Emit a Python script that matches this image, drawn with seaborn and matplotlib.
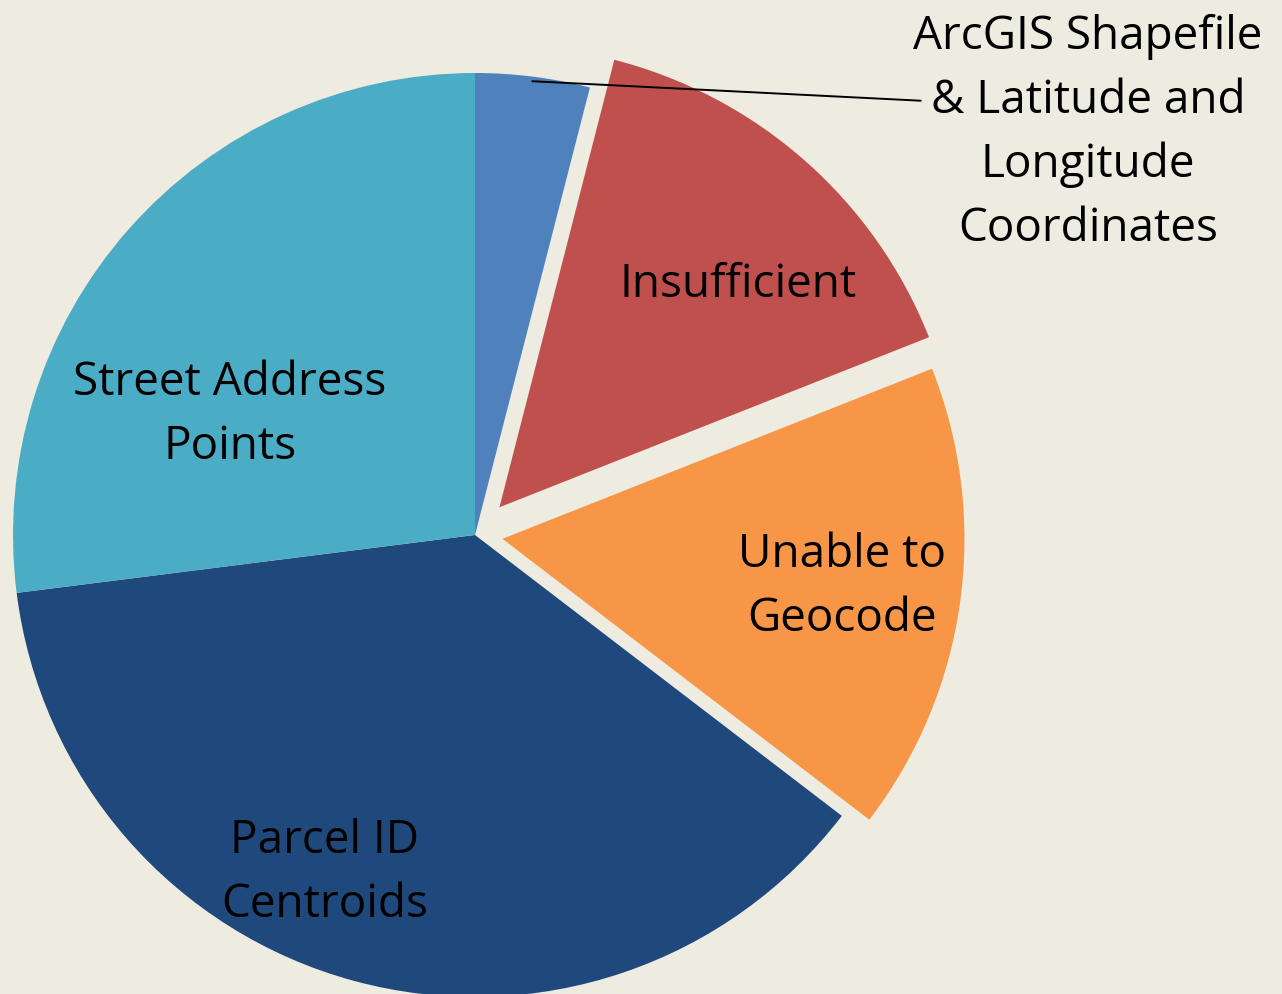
import numpy as np
import matplotlib.pyplot as plt
import seaborn as sns

# slice data (clockwise from 12 o'clock)
labels = ["ArcGIS Shapefile\n& Latitude and\nLongitude\nCoordinates", "Insufficient",
          "Unable to\nGeocode", "Parcel ID\nCentroids", "Street Address\nPoints"]
shares = [4.0, 15.0, 16.4, 37.6, 27.0]
colors = ["#4F81BD", "#C0504D", "#F79646", "#1F497D", "#4BACC6"]
explode = [0, 0.08, 0.06, 0, 0]

bg = "#EEEBE0"
sns.set_theme(style="white", rc={"figure.facecolor": bg, "axes.facecolor": bg})
plt.rcParams["font.family"] = ["Open Sans", "DejaVu Sans"]

fig = plt.figure(figsize=(12.82, 9.94), dpi=100)
ax = fig.add_axes([0, 0, 1, 1])

wedges, _ = ax.pie(shares, colors=colors, explode=explode, startangle=90,
                   counterclock=False, radius=1.0, wedgeprops=dict(linewidth=0))

# map data units so that the pie sits where the reference has it
r_px = 462
cx, cy = 475, 535
ax.set_xlim(-cx / r_px, (1282 - cx) / r_px)
ax.set_ylim(-(994 - cy) / r_px, cy / r_px)
ax.set_aspect("equal")
ax.axis("off")

fs = 33
label_pos = {
    1: (0.569, 0.541),
    2: (0.794, -0.113),
    3: (-0.325, -0.732),
    4: (-0.530, 0.260),
}
for i, (x, y) in label_pos.items():
    ax.text(x, y, labels[i], ha="center", va="center", fontsize=fs,
            color="black", linespacing=1.5)

# outside label for the small slice with leader line
w = wedges[0]
mid = np.deg2rad((w.theta1 + w.theta2) / 2)
start = (0.99 * np.cos(mid), 0.99 * np.sin(mid))
end = (0.965, 0.940)
ax.plot([start[0], end[0]], [start[1], end[1]], color="black", lw=1.4)
ax.text(1.327, 0.870, labels[0], ha="center", va="center", fontsize=fs,
        color="black", linespacing=1.5)

fig.savefig("out.png", dpi=100, facecolor=bg)
